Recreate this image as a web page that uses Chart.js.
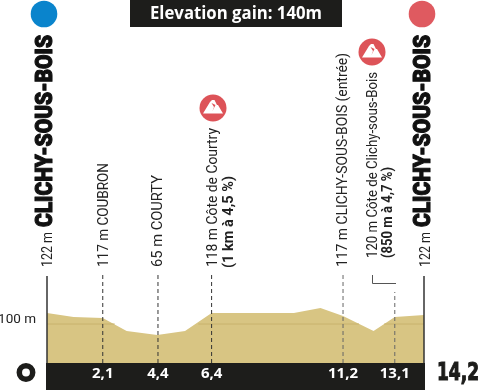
<!DOCTYPE html>
<html><head><meta charset="utf-8">
<style>html,body{margin:0;padding:0;background:#fff}#w{width:480px;height:390px}</style>
<script src="https://cdn.jsdelivr.net/npm/chart.js@4"></script></head>
<body><div id="w"><canvas id="c"></canvas></div>
<script>
const profileKm=[0,1,2.1,3,4.15,5.2,6.2,9.3,10.3,11.15,12.3,13.1,14.2];
const profileM=[122,114,112,86,78,86,122,122,132,116,86,114,118];
const gridSegKm=[0,2.55,null,5.7,11.75,null,12.7,14.2];
const tickKm=[2.1,4.18,6.2,11.15,13.1];
const tickLabels=['2,1','4,4','6,4','11,2','13,1'];
const dashTop=[204,204,204,204,164];
const dashColors=['#333','#333','#333','#666','#666'];
const yTickValues=[100];
const yTickLabels=['100 m'];
const titleText='Elevation gain: 140m';
const placeName='CLICHY-SOUS-BOIS';
const startLabel='0', endLabel='14,2';
const yMin=22,yMax=208,xMax=14.2;

const TAN='#d8c583',BLACK='#1d1d1b';
const datasets=[
 {type:'line',order:3,data:profileKm.map((x,i)=>({x,y:profileM[i]})),borderWidth:0,pointRadius:0,fill:'start',backgroundColor:TAN,tension:0},
 {type:'line',order:2,data:gridSegKm.map(x=>x===null?{x:1,y:null}:{x,y:100}),borderColor:'#c8b26c',borderWidth:1,pointRadius:0,spanGaps:false},
];
tickKm.forEach((k,i)=>datasets.push({type:'line',order:1,data:[{x:k,y:yMin},{x:k,y:dashTop[i]}],borderColor:dashColors[i],borderWidth:1,borderDash:[4,3],pointRadius:0}));
[0,xMax].forEach(k=>datasets.push({type:'line',order:1,data:[{x:k,y:yMin},{x:k,y:196}],borderColor:'#333',borderWidth:1.5,pointRadius:0,clip:false}));

function rot(ctx,text,x,yBottom,len,font,color,stroke){
 ctx.save();ctx.font=font;ctx.fillStyle=color;ctx.textBaseline='middle';ctx.textAlign='left';
 ctx.translate(x+1.5,yBottom);ctx.rotate(-Math.PI/2);
 const m=ctx.measureText(text).width;ctx.scale(len/m,1);
 ctx.fillText(text,0,0);
 if(stroke){ctx.strokeStyle=color;ctx.lineWidth=stroke;ctx.lineJoin='round';ctx.strokeText(text,0,0);}
 ctx.restore();
}
function peak(ctx,x,y){
 ctx.save();ctx.fillStyle='#dd5358';ctx.beginPath();ctx.arc(x,y,13.5,0,7);ctx.fill();
 ctx.fillStyle='#fff';ctx.beginPath();
 ctx.moveTo(x-10,y+5.5);ctx.lineTo(x-3,y-6);ctx.lineTo(x-1,y-8);ctx.lineTo(x+1.5,y-8);ctx.lineTo(x+4,y-3);ctx.lineTo(x+5,y-3);ctx.lineTo(x+10,y+5.5);ctx.closePath();ctx.fill();
 ctx.fillStyle='#dd5358';ctx.beginPath();ctx.moveTo(x-1.5,y-5);ctx.lineTo(x+1,y-1);ctx.lineTo(x-0.5,y+3);ctx.lineTo(x+2.5,y-3);ctx.closePath();ctx.fill();
 ctx.restore();
}
const REG='14px Roboto',BLD='bold 14px Roboto',HEAVY='900 23px Roboto';
const deco={id:'deco',
 beforeDraw(ch){
  const {ctx,chartArea:a}=ch;
  ctx.save();ctx.fillStyle=BLACK;ctx.fillRect(a.left-1,a.bottom,a.right-a.left+2,27);ctx.restore();
 },
 afterDraw(ch){
  const {ctx}=ch;
  ctx.save();
  ctx.fillStyle=BLACK;ctx.fillRect(130,0,212,27);
  ctx.fillStyle='#fff';ctx.font='bold 17px "Open Sans"';ctx.textAlign='left';ctx.textBaseline='middle';
  ctx.save();ctx.translate(150,14);ctx.scale(172/ctx.measureText(titleText).width,1);ctx.fillText(titleText,0,0);ctx.restore();
  ctx.fillStyle='#0a84cc';ctx.beginPath();ctx.arc(44,14,13.3,0,7);ctx.fill();
  ctx.fillStyle='#df5a60';ctx.beginPath();ctx.arc(422,14,13.3,0,7);ctx.fill();
  rot(ctx,placeName,44.3,227,192,HEAVY,'#111',1.1);
  rot(ctx,placeName,422.7,227,192,HEAVY,'#111',1.1);
  rot(ctx,'122 m',46.7,267,35,REG,'#222');
  rot(ctx,'122 m',425,267,35,REG,'#222');
  rot(ctx,'117 m COUBRON',102.7,267,104,REG,'#222');
  rot(ctx,'65 m COURTY',157,267,92,REG,'#222');
  rot(ctx,'118 m Côte de Courtry',211.7,267,139,REG,'#222');
  rot(ctx,'(1 km à 4,5 %)',228,268,92,BLD,'#222');
  rot(ctx,'117 m CLICHY-SOUS-BOIS (entrée)',342.3,267,214,REG,'#222');
  rot(ctx,'120 m Côte de Clichy-sous-Bois',371.7,258,186,REG,'#222');
  rot(ctx,'(850 m à 4,7 %)',387.3,258,91,BLD,'#222');
  peak(ctx,213,108);peak(ctx,372,52);
  ctx.strokeStyle='#555';ctx.lineWidth=1;ctx.beginPath();ctx.moveTo(372.5,275);ctx.lineTo(372.5,283.5);ctx.lineTo(396,283.5);ctx.stroke();
  ctx.strokeStyle='#1d1d1b';ctx.lineWidth=5.5;ctx.beginPath();ctx.arc(26,372.5,6.7,0,7);ctx.stroke();
  ctx.fillStyle='#1d1d1b';ctx.font='bold 25px "DejaVu Sans"';ctx.textAlign='left';ctx.textBaseline='middle';
  ctx.save();ctx.translate(437,373);const w=ctx.measureText(endLabel).width;ctx.scale(42/w,1);
  ctx.lineWidth=1.2;ctx.strokeStyle='#1d1d1b';ctx.fillText(endLabel,0,0);ctx.strokeText(endLabel,0,0);ctx.restore();
  ctx.restore();
 }};
new Chart(document.getElementById('c'),{
 data:{datasets},
 plugins:[deco],
 options:{responsive:true,maintainAspectRatio:false,animation:false,
  layout:{padding:{left:0,right:480-424,top:270,bottom:0}},
  plugins:{legend:{display:false},tooltip:{enabled:false}},
  scales:{
   x:{type:'linear',min:0,max:xMax,
    afterBuildTicks(s){s.ticks=tickKm.map(v=>({value:v}));},
    afterFit(s){s.height=27;},
    grid:{display:false,drawTicks:false},border:{display:false},
    ticks:{autoSkip:false,maxRotation:0,color:'#fff',padding:2,font:{family:'"Open Sans"',weight:'bold',size:15},
     callback(v){return tickLabels[tickKm.indexOf(v)];}}},
   y:{type:'linear',min:yMin,max:yMax,
    afterBuildTicks(s){s.ticks=yTickValues.map(v=>({value:v}));},
    afterFit(s){s.width=47;},
    grid:{display:false,drawTicks:false},border:{display:false},
    ticks:{autoSkip:false,color:'#222',padding:11,font:{family:'Roboto',size:13.5,lineHeight:'8px'},
     callback(v){return [yTickLabels[yTickValues.indexOf(v)],''];}}}
  }}
});
</script></body></html>
